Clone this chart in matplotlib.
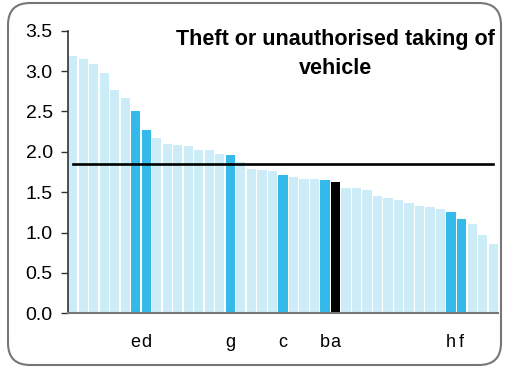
import matplotlib
matplotlib.use('Agg')
import matplotlib.pyplot as plt
from matplotlib.patches import FancyBboxPatch

plt.rcParams['font.family'] = ['Liberation Sans', 'DejaVu Sans']

# values, sorted high to low
values = [3.19, 3.15, 3.09, 2.97, 2.76, 2.67, 2.50, 2.27, 2.17, 2.10,
          2.08, 2.07, 2.02, 2.02, 1.97, 1.96, 1.87, 1.79, 1.77, 1.76,
          1.71, 1.69, 1.66, 1.66, 1.65, 1.63, 1.55, 1.55, 1.53, 1.45,
          1.43, 1.40, 1.37, 1.33, 1.32, 1.29, 1.25, 1.17, 1.11, 0.97,
          0.86]
labels = [''] * len(values)
labels[6] = 'e'
labels[7] = 'd'
labels[15] = 'g'
labels[20] = 'c'
labels[24] = 'b'
labels[25] = 'a'
labels[36] = 'h'
labels[37] = 'f'
average = 1.85
title = 'Theft or unauthorised taking of\nvehicle'

light = '#CCECF8'
dark = '#33BAEA'
colors = []
for lab in labels:
    if lab == 'a':
        colors.append('black')
    elif lab:
        colors.append(dark)
    else:
        colors.append(light)

fig = plt.figure(figsize=(5.05, 3.69), dpi=100)
ax = fig.add_axes([0.1347, 0.151, 0.851, 0.7658])

x = list(range(len(values)))
ax.bar(x, values, width=0.88, color=colors, zorder=2)
ax.plot([0, len(values) - 1], [average, average], color='black', lw=1.9, zorder=3)

ax.set_xlim(-0.44, len(values) - 0.56)
ax.set_ylim(0, 3.5)
ax.set_yticks([0, 0.5, 1.0, 1.5, 2.0, 2.5, 3.0, 3.5])
ax.set_yticklabels(['0.0', '0.5', '1.0', '1.5', '2.0', '2.5', '3.0', '3.5'])
ax.set_xticks(x)
ax.set_xticklabels(labels)
ax.tick_params(axis='y', length=5, width=1, color='#333333', pad=6, labelsize=14)
ax.tick_params(axis='x', length=0, pad=15, labelsize=13)

for s in ['top', 'right']:
    ax.spines[s].set_visible(False)
ax.spines['left'].set_color('#333333')
ax.spines['left'].set_linewidth(1.2)
ax.spines['bottom'].set_color('#777777')
ax.spines['bottom'].set_linewidth(1.5)

fig.text(0.665, 0.853, title, ha='center', va='center', fontsize=15.5,
         fontweight='bold', linespacing=1.5)

# rounded frame around the whole chart (display pixels)
r = 22
frame = FancyBboxPatch((8 + r, 4 + r), 493 - 2 * r, 362 - 2 * r,
                       boxstyle=f'round,pad={r}', transform=None,
                       facecolor='none', edgecolor='#777777', lw=1.5)
fig.patches.append(frame)

fig.savefig('out.png', dpi=100)
